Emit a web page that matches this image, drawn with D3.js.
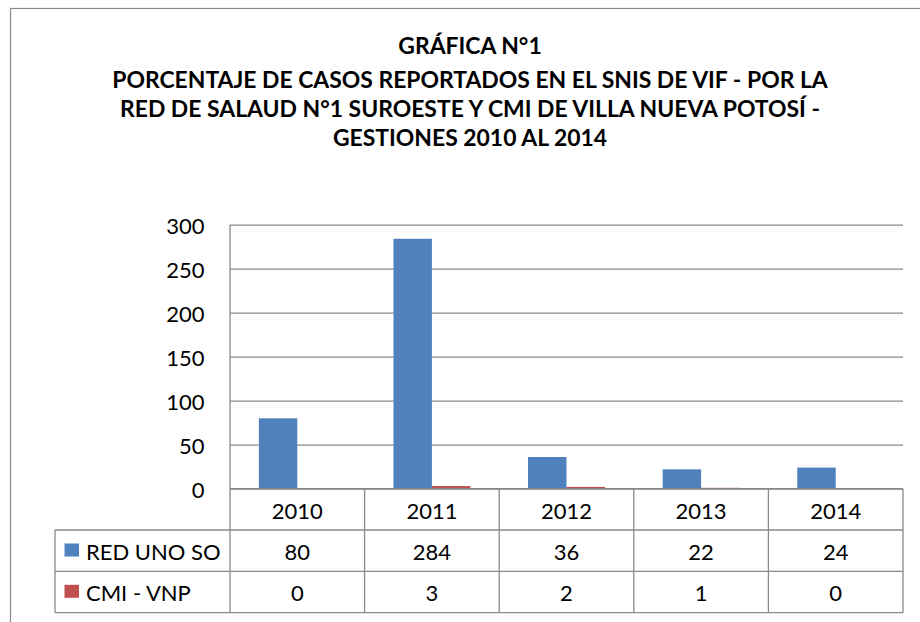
<!DOCTYPE html>
<html>
<head>
<meta charset="utf-8">
<script src="https://cdn.jsdelivr.net/npm/d3@7"></script>
<style>
  body { margin: 0; background: #fff; }
  text { font-family: Lato, "Open Sans", sans-serif; fill: #000; }
</style>
</head>
<body>
<div id="chart"></div>
<script>
// datos
var years = ["2010", "2011", "2012", "2013", "2014"];
var seriesNames = ["RED UNO SO", "CMI - VNP"];
var redUnoSo = [80, 284, 36, 22, 24];
var cmiVnp = [0, 3, 2, 1, 0];
var yTicks = [0, 50, 100, 150, 200, 250, 300];
var titleLines = [
    "GRÁFICA N°1",
    "PORCENTAJE DE CASOS REPORTADOS EN EL SNIS DE VIF - POR LA",
    "RED DE SALAUD N°1 SUROESTE Y CMI DE VILLA NUEVA POTOSÍ -",
    "GESTIONES 2010 AL 2014"
];
var colors = ["#4F81BD", "#C0504D"];

var width = 920;
var height = 622;
var plotLeft = 230, plotRight = 903, plotTop = 224.7, plotBottom = 488.7;
var rowH = 41.3;
var legendLeft = 55;
var lineColor = "#898989";
var fontSize = 22;

var series = [redUnoSo, cmiVnp];

var svg = d3.select("#chart")
    .append("svg")
    .attr("width", width)
    .attr("height", height);

// borde exterior
svg.append("rect")
    .attr("x", 10.5)
    .attr("y", 8.5)
    .attr("width", width + 20)
    .attr("height", height + 20)
    .attr("fill", "none")
    .attr("stroke", "#8c8c8c")
    .attr("stroke-width", 1.2);

// título
var titleY = [54, 87.5, 116.5, 145.5];
var title = svg.append("g");
title.selectAll("text")
    .data(titleLines)
    .enter()
    .append("text")
    .attr("x", 470)
    .attr("y", function (d, i) { return titleY[i]; })
    .attr("text-anchor", "middle")
    .style("font-weight", "bold")
    .style("font-size", "20px")
    .text(function (d) { return d; });
// ajustar tamaño para que la línea 2 mida ~716px
var w2 = title.selectAll("text").nodes()[1].getComputedTextLength();
title.selectAll("text").style("font-size", (20 * 716 / w2) + "px");

// escalas
var x0 = d3.scaleBand()
    .domain(years)
    .range([plotLeft, plotRight])
    .padding(0);

var x1 = d3.scaleBand()
    .domain(seriesNames)
    .range([0, x0.bandwidth()])
    .paddingInner(0)
    .paddingOuter(0.75);

var yScale = d3.scaleLinear()
    .domain([0, 300])
    .range([plotBottom, plotTop]);

// líneas de cuadrícula
svg.append("g")
    .attr("transform", "translate(" + plotLeft + ",0)")
    .call(d3.axisLeft(yScale).tickValues(yTicks).tickSize(-(plotRight - plotLeft)).tickFormat(""))
    .call(function (g) { g.select(".domain").remove(); })
    .call(function (g) { g.selectAll("line").attr("stroke", lineColor).attr("stroke-width", 1.3); });

// eje Y (etiquetas)
svg.append("g")
    .attr("transform", "translate(204.5,0)")
    .call(d3.axisLeft(yScale).tickValues(yTicks).tickSize(0).tickPadding(0))
    .call(function (g) { g.select(".domain").remove(); })
    .call(function (g) {
        g.selectAll("text")
            .attr("dy", "8.6")
            .attr("font-family", null)
            .style("font-size", fontSize + "px")
            .attr("fill", "#000");
    });

// barras
svg.append("g")
    .selectAll("g")
    .data(series)
    .enter()
    .append("g")
    .attr("fill", function (d, i) { return colors[i]; })
    .each(function (vals, si) {
        d3.select(this).selectAll("rect")
            .data(vals)
            .enter()
            .append("rect")
            .attr("x", function (d, i) { return x0(years[i]) + x1(seriesNames[si]); })
            .attr("y", function (d) { return yScale(d); })
            .attr("width", x1.bandwidth())
            .attr("height", function (d) { return plotBottom - yScale(d); });
    });

// eje vertical izquierdo
svg.append("line")
    .attr("x1", plotLeft).attr("x2", plotLeft)
    .attr("y1", plotTop).attr("y2", plotBottom)
    .attr("stroke", lineColor).attr("stroke-width", 1.3);

// tabla de datos
var table = svg.append("g")
    .attr("stroke", lineColor)
    .attr("stroke-width", 1.3);

// líneas horizontales
table.append("line")
    .attr("x1", plotLeft).attr("x2", plotRight)
    .attr("y1", plotBottom).attr("y2", plotBottom);
for (var r = 1; r <= 3; r++) {
    table.append("line")
        .attr("x1", legendLeft).attr("x2", plotRight)
        .attr("y1", plotBottom + rowH * r).attr("y2", plotBottom + rowH * r);
}
// líneas verticales
table.selectAll("line.v")
    .data(years.concat(["end"]))
    .enter()
    .append("line")
    .attr("class", "v")
    .attr("x1", function (d) { return d == "end" ? plotRight : x0(d); })
    .attr("x2", function (d) { return d == "end" ? plotRight : x0(d); })
    .attr("y1", plotBottom)
    .attr("y2", plotBottom + rowH * 3);
table.append("line")
    .attr("x1", legendLeft).attr("x2", legendLeft)
    .attr("y1", plotBottom + rowH).attr("y2", plotBottom + rowH * 3);

// años
svg.append("g")
    .selectAll("text")
    .data(years)
    .enter()
    .append("text")
    .attr("x", function (d) { return x0(d) + x0.bandwidth() / 2; })
    .attr("y", plotBottom + 30.5)
    .attr("text-anchor", "middle")
    .style("font-size", fontSize + "px")
    .text(function (d) { return d; });

// valores
series.forEach(function (vals, si) {
    var rowY = plotBottom + rowH * (si + 1);
    svg.append("g")
        .selectAll("text")
        .data(vals)
        .enter()
        .append("text")
        .attr("x", function (d, i) { return x0(years[i]) + x0.bandwidth() / 2; })
        .attr("y", rowY + 29.5)
        .attr("text-anchor", "middle")
        .style("font-size", fontSize + "px")
        .text(function (d) { return d; });

    // leyenda
    svg.append("rect")
        .attr("x", 64.5)
        .attr("y", rowY + 13.5)
        .attr("width", 14.5)
        .attr("height", 13)
        .attr("fill", colors[si]);
    svg.append("text")
        .attr("x", 86)
        .attr("y", rowY + 29.5)
        .style("font-size", fontSize + "px")
        .text(seriesNames[si]);
});
</script>
</body>
</html>
